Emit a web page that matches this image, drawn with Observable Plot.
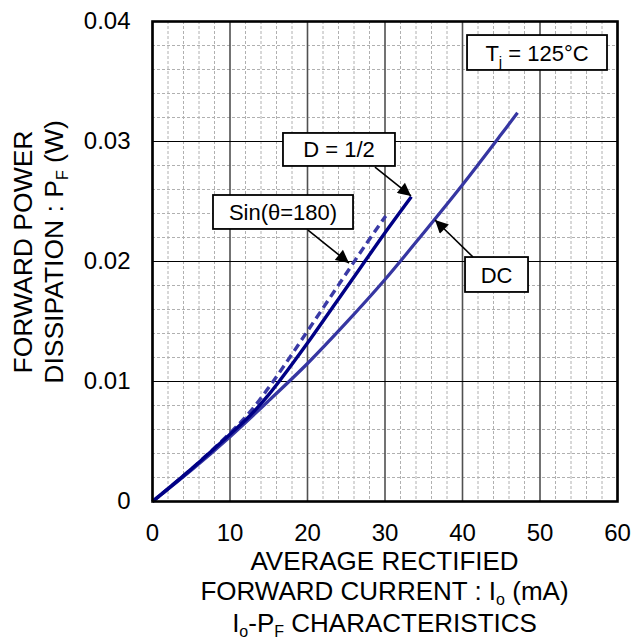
<!DOCTYPE html>
<html><head><meta charset="utf-8">
<script src="https://cdn.jsdelivr.net/npm/d3@7"></script>
<script src="https://cdn.jsdelivr.net/npm/@observablehq/plot@0.6"></script>
<style>body{margin:0;background:#fff} svg{display:block}</style>
</head><body><div id="chart"></div>
<script>
// ---- data ----
const dcI = [0, 5, 10, 15, 20, 25, 30, 35, 40, 45, 47.1];
const dcP = [0, 0.0026, 0.0054, 0.0084, 0.0115, 0.0149, 0.0185, 0.0224, 0.0264, 0.0306, 0.0324];
const halfI = [0, 5, 10, 12.5, 15, 17.5, 20, 25, 27.5, 30, 33.4];
const halfP = [0, 0.0027, 0.0056, 0.0071, 0.0089, 0.0110, 0.0132, 0.0178, 0.0201, 0.0224, 0.0254];
const sinI = [0, 5, 10, 12.5, 15, 17.5, 20, 22.5, 25, 27.5, 30.1];
const sinP = [0, 0.0027, 0.0057, 0.0074, 0.0095, 0.0118, 0.0142, 0.0166, 0.0190, 0.0214, 0.0238];

const xTicks = [0, 10, 20, 30, 40, 50, 60];
const xMinor = [2,4,6,8,12,14,16,18,22,24,26,28,32,34,36,38,42,44,46,48,52,54,56,58];
const yTicks = [0, 0.01, 0.02, 0.03, 0.04];
const yMinor = [0.002,0.004,0.006,0.008,0.012,0.014,0.016,0.018,0.022,0.024,0.026,0.028,0.032,0.034,0.036,0.038];

// annotation boxes (data units) and arrows
const boxes = [
  {id:"half", x1:16.90, x2:31.35, y1:0.02792, y2:0.03067},
  {id:"sin",  x1:7.87,  x2:25.94, y1:0.02267, y2:0.02550},
  {id:"dc",   x1:40.39, x2:48.52, y1:0.01742, y2:0.02033},
  {id:"tj",   x1:40.65, x2:58.71, y1:0.03592, y2:0.03883}
];
const boxLabels = {
  half: [["D = 1/2", false]],
  sin:  [["Sin(θ=180)", false]],
  dc:   [["DC", false]],
  tj:   [["T", false], ["j", true], [" = 125°C", false]]
};
const arrows = [
  {x1:28.77, y1:0.02783, x2:33.42, y2:0.02542},
  {x1:20.13, y1:0.02258, x2:25.42, y2:0.01983},
  {x1:41.42, y1:0.02033, x2:36.52, y2:0.02342}
];

const rows = [
  ...dcI.map((v,i)=>({s:"DC", I:v, P:dcP[i]})),
  ...halfI.map((v,i)=>({s:"half", I:v, P:halfP[i]})),
  ...sinI.map((v,i)=>({s:"sin", I:v, P:sinP[i]}))
];

const FONT = "'Liberation Sans', Arial, sans-serif";

const chart = Plot.plot({
  width: 633, height: 641,
  marginLeft: 152, marginRight: 16, marginTop: 21, marginBottom: 140,
  style: {fontFamily: FONT, background: "white", color: "black", overflow: "visible"},
  x: {domain: [0, 60]},
  y: {domain: [0, 0.04]},
  marks: [
    Plot.ruleX(xMinor, {stroke: "#b0b0b0", strokeWidth: 1, strokeDasharray: "3,2"}),
    Plot.ruleY(yMinor, {stroke: "#b0b0b0", strokeWidth: 1, strokeDasharray: "3,2"}),
    Plot.ruleX(xTicks, {stroke: "#505050", strokeWidth: 1.6}),
    Plot.ruleY(yTicks, {stroke: "#000", strokeWidth: 1.1}),
    Plot.line(rows.filter(d=>d.s==="DC"), {x:"I", y:"P", stroke:"#3636a2", strokeWidth:3.2, curve:"catmull-rom", strokeLinecap:"butt"}),
    Plot.line(rows.filter(d=>d.s==="sin"), {x:"I", y:"P", stroke:"#3a3aa6", strokeWidth:3.4, strokeDasharray:"8,5", curve:"catmull-rom", strokeLinecap:"butt"}),
    Plot.line(rows.filter(d=>d.s==="half"), {x:"I", y:"P", stroke:"#000085", strokeWidth:3.4, curve:"catmull-rom", strokeLinecap:"butt"}),
    Plot.frame({stroke: "black", strokeWidth: 2.6}),
    Plot.rect(boxes, {x1:"x1", x2:"x2", y1:"y1", y2:"y2", fill:"white", stroke:"black", strokeWidth:1.8}),
    Plot.axisX(xTicks, {tickSize: 0, tickPadding: 22, fontSize: 24, label: null}),
    Plot.axisY(yTicks, {tickSize: 0, tickPadding: 22, fontSize: 24, label: null,
      tickFormat: d => d === 0 ? "0" : d.toFixed(2)})
  ]
});
document.getElementById("chart").appendChild(chart);

const X = chart.scale("x"), Y = chart.scale("y");
const svg = d3.select(chart);

// arrow marker
const defs = svg.append("defs");
defs.append("marker").attr("id","ah").attr("viewBox","0 0 10 10")
  .attr("refX",10).attr("refY",5).attr("markerWidth",16).attr("markerHeight",13)
  .attr("markerUnits","userSpaceOnUse").attr("orient","auto")
  .append("path").attr("d","M0,0L10,5L0,10Z").attr("fill","black");

svg.append("g").selectAll("line").data(arrows).join("line")
  .attr("x1", d=>X.apply(d.x1)).attr("y1", d=>Y.apply(d.y1))
  .attr("x2", d=>X.apply(d.x2)).attr("y2", d=>Y.apply(d.y2))
  .attr("stroke","black").attr("stroke-width",1.6).attr("marker-end","url(#ah)");

function richText(sel, parts, size, subSize, shift) {
  let pending = 0;
  parts.forEach(([t, sub]) => {
    const ts = sel.append("tspan").text(t);
    if (sub) {
      ts.attr("dy", shift - pending).attr("font-size", subSize);
      pending = shift;
    } else {
      ts.attr("font-size", size);
      if (pending) { ts.attr("dy", -pending); pending = 0; }
    }
  });
}

// box labels
boxes.forEach(b => {
  const cx = (X.apply(b.x1) + X.apply(b.x2)) / 2;
  const cy = (Y.apply(b.y1) + Y.apply(b.y2)) / 2;
  const t = svg.append("text").attr("x", cx).attr("y", cy + 8)
    .attr("text-anchor","middle").attr("font-family", FONT).attr("fill","black");
  richText(t, boxLabels[b.id], 22, 15, 6);
});

// x axis title
const xc = (X.apply(0) + X.apply(60)) / 2;
const xTitle = [
  [["AVERAGE RECTIFIED", false]],
  [["FORWARD CURRENT : I", false], ["o", true], [" (mA)", false]],
  [["I", false], ["o", true], ["-P", false], ["F", true], [" CHARACTERISTICS", false]]
];
const xBase = [570, 600, 632];
xTitle.forEach((parts, i) => {
  const t = svg.append("text").attr("x", xc).attr("y", xBase[i])
    .attr("text-anchor","middle").attr("font-family", FONT).attr("fill","black");
  richText(t, parts, 26, 16, 5);
});

// y axis title
const yTitle = [
  [["FORWARD POWER", false]],
  [["DISSIPATION : P", false], ["F", true], [" (W)", false]]
];
const yBase = [32, 63];
yTitle.forEach((parts, i) => {
  const t = svg.append("text").attr("transform", `translate(${yBase[i]},252) rotate(-90)`)
    .attr("text-anchor","middle").attr("font-family", FONT).attr("fill","black");
  richText(t, parts, 26.5, 16, 5);
});
</script></body></html>
